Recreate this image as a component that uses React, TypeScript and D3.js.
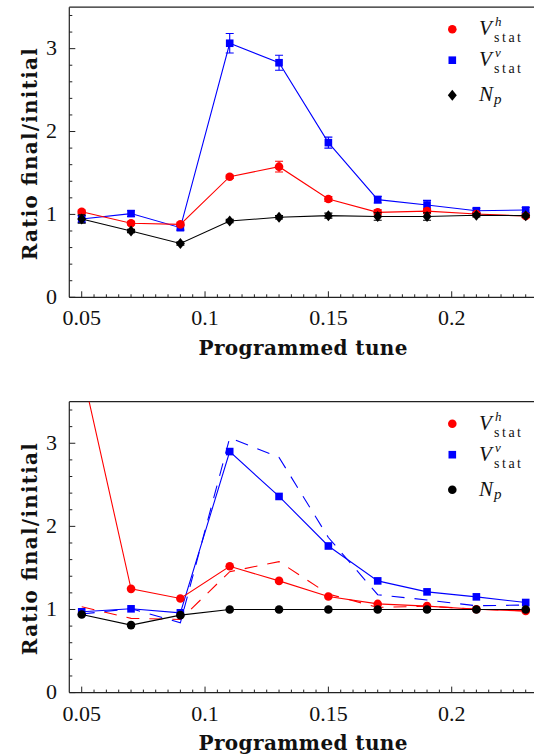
import React from 'react'
import { scaleLinear, line, range } from 'd3'

// programmed tune values (x)
const tunes = [0.05, 0.07, 0.09, 0.11, 0.13, 0.15, 0.17, 0.19, 0.21, 0.23]

// top panel: measured ratios with errors
const topVh = [1.033, 0.893, 0.88, 1.455, 1.576, 1.186, 1.025, 1.04, 1.005, 0.98]
const topVhErr = [0.02, 0.02, 0.02, 0.02, 0.065, 0.03, 0.03, 0.03, 0.02, 0.02]
const topVv = [0.945, 1.01, 0.84, 3.065, 2.83, 1.866, 1.178, 1.114, 1.045, 1.053]
const topVvErr = [0.04, 0.035, 0.03, 0.117, 0.09, 0.066, 0.04, 0.055, 0.03, 0.03]
const topNp = [0.945, 0.8, 0.65, 0.92, 0.965, 0.985, 0.975, 0.975, 0.99, 0.985]
const topNpErr = [0.05, 0.02, 0.02, 0.02, 0.02, 0.03, 0.045, 0.045, 0.02, 0.02]

// bottom panel: simulated ratios
const botVh = [3.9, 1.248, 1.132, 1.52, 1.344, 1.156, 1.067, 1.04, 1.003, 0.983]
const botVv = [0.972, 1.008, 0.96, 2.9, 2.36, 1.764, 1.344, 1.212, 1.152, 1.084]
const botNp = [0.94, 0.812, 0.932, 1.0, 1.0, 1.0, 1.0, 1.0, 1.0, 1.0]

const xTickValues = [0.05, 0.1, 0.15, 0.2]
const xTickLabels = ['0.05', '0.1', '0.15', '0.2']
const yTickValues = [0, 1, 2, 3]

const RED = '#ff0000'
const BLUE = '#0000ff'
const BLACK = '#000000'
const serif = { fontFamily: 'Liberation Serif, DejaVu Serif, serif' }
const boldSerif = { fontFamily: 'DejaVu Serif, serif', fontWeight: 'bold' }

const Marker = ({ shape, x, y, color }) => {
  if (shape === 'circle') return <circle cx={x} cy={y} r={4.3} fill={color} />
  if (shape === 'square') return <rect x={x - 3.8} y={y - 3.8} width={7.6} height={7.6} fill={color} />
  return <path d={`M${x},${y - 5.5}L${x + 4.5},${y}L${x},${y + 5.5}L${x - 4.5},${y}Z`} fill={color} />
}

const Panel = ({ top, bottom, series, dashed, legendShapes, clipId }) => {
  const left = 69.3
  const right = 534
  const x = scaleLinear().domain([0.04497, 0.2384]).range([left, left + (0.2384 - 0.04497) * 2466.7])
  const y = scaleLinear().domain([0, 3.5]).range([bottom, top])

  const path = line().x(d => x(d[0])).y(d => y(d[1]))
  const minorX = range(0.05, 0.2386, 0.005)
  const minorY = range(0, 3.5, 0.2)

  const legendY = [top + 22, top + 53, top + 88]
  const legendColors = [RED, BLUE, BLACK]

  return (
    <g>
      <defs>
        <clipPath id={clipId}>
          <rect x={left} y={top} width={right - left} height={bottom - top} />
        </clipPath>
      </defs>

      {/* frame */}
      <line x1={left} x2={left} y1={top} y2={bottom} stroke="#222" strokeWidth={1.2} />
      <line x1={left} x2={right} y1={top} y2={top} stroke="#222" strokeWidth={1.2} />
      <line x1={left} x2={right} y1={bottom} y2={bottom} stroke="#222" strokeWidth={1.2} />

      {/* ticks */}
      {minorX.map((v, i) => {
        const major = xTickValues.some(t => Math.abs(t - v) < 1e-6)
        return <line key={`mx${i}`} x1={x(v)} x2={x(v)} y1={bottom} y2={bottom - (major ? 6 : 3)} stroke="#222" strokeWidth={1} />
      })}
      {minorY.map((v, i) => {
        const major = yTickValues.some(t => Math.abs(t - v) < 1e-6)
        return <line key={`my${i}`} x1={left} x2={left + (major ? 6 : 3)} y1={y(v)} y2={y(v)} stroke="#222" strokeWidth={1} />
      })}

      {xTickValues.map((v, i) => (
        <text key={`xl${i}`} x={x(v)} y={bottom + 28} textAnchor="middle" style={serif} fontSize={22} fill="#111">
          {xTickLabels[i]}
        </text>
      ))}
      {yTickValues.map(v => (
        <text key={`yl${v}`} x={57} y={y(v) + 6.5} textAnchor="end" style={serif} fontSize={22} fill="#111">
          {v}
        </text>
      ))}

      <text x={303} y={bottom + 57.5} textAnchor="middle" style={boldSerif} fontSize={20} textLength={209} fill="#111">
        Programmed tune
      </text>
      <text transform={`translate(36.5, ${(top + bottom) / 2 + 2}) rotate(-90)`} textAnchor="middle" style={boldSerif} fontSize={20} textLength={212} fill="#111">
        Ratio final/initial
      </text>

      <g clipPath={`url(#${clipId})`}>
        {dashed.map((s, i) => (
          <path key={`d${i}`} d={path(tunes.map((t, j) => [t, s.values[j]]))} fill="none" stroke={s.color} strokeWidth={1.1} strokeDasharray="13,10" />
        ))}
        {series.map((s, i) => (
          <g key={`s${i}`}>
            <path d={path(tunes.map((t, j) => [t, s.values[j]]))} fill="none" stroke={s.color} strokeWidth={1.1} />
            {s.errors && tunes.map((t, j) => {
              const cx = x(t)
              const y1 = y(s.values[j] - s.errors[j])
              const y2 = y(s.values[j] + s.errors[j])
              return (
                <g key={`e${j}`} stroke={s.color} strokeWidth={1.1}>
                  <line x1={cx} x2={cx} y1={y1} y2={y2} />
                  <line x1={cx - 4} x2={cx + 4} y1={y1} y2={y1} />
                  <line x1={cx - 4} x2={cx + 4} y1={y2} y2={y2} />
                </g>
              )
            })}
            {tunes.map((t, j) => (
              <Marker key={`m${j}`} shape={s.shape} x={x(t)} y={y(s.values[j])} color={s.color} />
            ))}
          </g>
        ))}
      </g>

      {/* legend */}
      {legendShapes.map((shape, i) => (
        <Marker key={`lg${i}`} shape={shape} x={452.3} y={legendY[i]} color={legendColors[i]} />
      ))}
      {[0, 1].map(i => (
        <text key={`lt${i}`} x={479} y={legendY[i] + 6} style={serif} fill="#111" fontSize={21}>
          <tspan fontStyle="italic">V</tspan>
          <tspan x={495} dy={-9} fontSize={13} fontStyle="italic">{i === 0 ? 'h' : 'v'}</tspan>
          <tspan x={494} dy={16} fontSize={14} textLength={27}>stat</tspan>
        </text>
      ))}
      <text x={479} y={legendY[2] + 6} style={serif} fill="#111" fontSize={21}>
        <tspan fontStyle="italic">N</tspan>
        <tspan dx={1} dy={3} fontSize={15} fontStyle="italic">p</tspan>
      </text>
    </g>
  )
}

export default function App() {
  const topSeries = [
    { values: topVv, errors: topVvErr, color: BLUE, shape: 'square' },
    { values: topVh, errors: topVhErr, color: RED, shape: 'circle' },
    { values: topNp, errors: topNpErr, color: BLACK, shape: 'diamond' },
  ]
  const botSeries = [
    { values: botVv, color: BLUE, shape: 'square' },
    { values: botVh, color: RED, shape: 'circle' },
    { values: botNp, color: BLACK, shape: 'circle' },
  ]
  const botDashed = [
    { values: topVh, color: RED },
    { values: topVv, color: BLUE },
  ]
  return (
    <svg width={534} height={756} style={{ position: 'absolute', left: 0, top: 0, background: '#fff' }}>
      <rect width={534} height={756} fill="#fff" />
      <Panel top={7.2} bottom={297.3} series={topSeries} dashed={[]} legendShapes={['circle', 'square', 'diamond']} clipId="clipTop" />
      <Panel top={401.7} bottom={692.6} series={botSeries} dashed={botDashed} legendShapes={['circle', 'square', 'circle']} clipId="clipBot" />
    </svg>
  )
}
